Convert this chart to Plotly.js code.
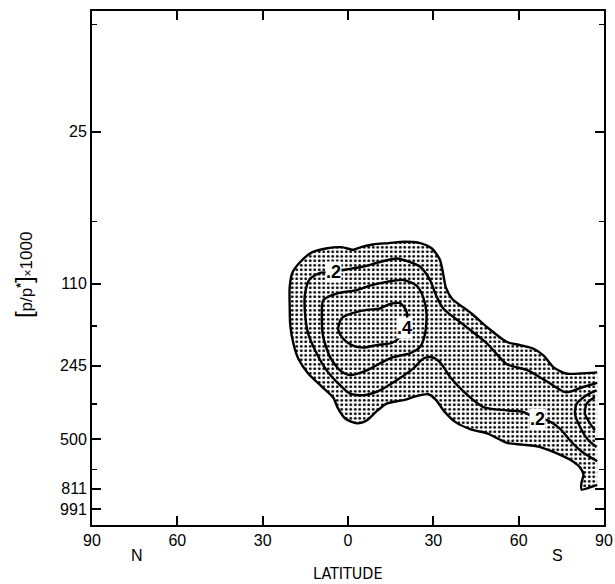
<!DOCTYPE html>
<html>
<head>
<meta charset="utf-8">
<script src="https://cdn.plot.ly/plotly-3.0.1.min.js"></script>
<style>html,body{margin:0;padding:0;background:#fff;}#chart{width:615px;height:584px;}</style>
</head>
<body>
<div id="chart"></div>
<script>
// Latitude: negative = North, positive = South (plotted 90N -> 90S)
const xTickVals = [-90, -60, -30, 0, 30, 60, 90];
const xTickText = ['90', '60', '30', '0', '30', '60', '90'];
const yTickVals = [25, 110, 245, 500, 811, 991];
const yMinorVals = [8.8, 60, 166, 356, 672];

// 0.1 contour (outer edge of stippled region)
const lat01 = [87.6, 81.6, 76.6, 72.2, 68.7, 65.1, 60.5, 55.8, 48.9, 43.4, 36.5, 34.4, 33.4, 32.3, 29.5, 25.4, 19.9, 14.3, 8.8, 4.6, 1.9, -2.3, -7.8, -12.7, -16.8, -19.6, -20.5, -20.5, -20.3, -19.2, -17.5, -14.0, -9.2, -5.1, -3.7, -0.9, 3.2, 6.7, 10.2, 13.6, 19.9, 24.0, 28.2, 30.9, 33.7, 37.8, 43.4, 48.9, 53.0, 55.8, 61.3, 66.9, 72.4, 78.0, 81.4, 82.8, 82.1, 82.1, 84.9, 87.6];
const p01 = [261, 264, 264, 248, 221, 207, 200, 194, 168, 147, 127, 114, 99, 87, 78, 74, 73, 74, 75, 77, 79, 77, 78, 81, 89, 99, 114, 137, 165, 197, 228, 264, 300, 335, 367, 410, 429, 416, 380, 354, 341, 329, 323, 341, 380, 424, 456, 473, 500, 519, 528, 538, 568, 611, 657, 707, 763, 818, 803, 782];

// 0.2 contour
const lat02 = [87.6, 82.7, 76.6, 69.7, 62.8, 55.8, 48.9, 41.7, 37.0, 33.5, 31.2, 28.8, 25.3, 21.8, 17.1, 11.2, 5.4, -1.1, -5.2, -9.8, -13.4, -15.1, -15.1, -14.0, -11.0, -7.5, -3.4, 0.7, 5.4, 11.2, 17.1, 23.0, 26.5, 29.4, 32.3, 35.9, 40.6, 47.6, 55.8, 61.6, 66.3, 69.9, 74.5, 78.0, 81.6, 85.1, 87.6];
const p02 = [289, 301, 317, 284, 255, 241, 197, 168, 152, 140, 125, 106, 93, 89, 86, 89, 93, 96, 98, 99, 105, 121, 147, 179, 217, 256, 291, 321, 326, 311, 282, 251, 228, 225, 236, 273, 314, 366, 378, 384, 410, 416, 452, 506, 558, 596, 621];

// 0.3 contour
const lat03 = [-8.7, -4.0, 3.1, 7.7, 13.6, 19.4, 24.1, 26.4, 27.6, 27.1, 25.3, 21.7, 15.9, 11.2, 6.6, 0.7, -2.8, -6.3, -8.7, -9.2, -8.7];
const p03 = [129, 121, 117, 112, 108, 106, 112, 125, 147, 179, 204, 217, 225, 239, 256, 268, 256, 225, 185, 152, 129];

// 0.4 contour
const lat04 = [-3.4, -2.2, 1.3, 6.6, 11.2, 14.8, 18.3, 20.4, 20.8, 20.0, 18.3, 15.4, 10.1, 5.4, 1.3, -1.7, -3.4, -3.4];
const p04 = [168, 154, 147, 142, 140, 134, 133, 142, 152, 170, 185, 196, 200, 205, 200, 188, 173, 168];

// contours at the south-polar edge
const latPolA = [87.4, 83.9, 80.4, 79.8, 81.6, 84.5, 87.4];
const pPolA = [311, 326, 354, 390, 445, 506, 540];
const latPolB = [86.8, 83.9, 83.3, 85.1, 86.8];
const pPolB = [332, 354, 390, 430, 459];

// contour labels
const labelText = ['.2', '.2', '.4'];
const labelLat = [-5.2, 66.6, 20.0];
const labelP = [98, 413, 170];

const lineStyle = {color: '#000', width: 2.4, shape: 'spline', smoothing: 0.7};
function lineTrace(x, y) {
  return {type: 'scatter', mode: 'lines', x: x, y: y, line: lineStyle, hoverinfo: 'skip', showlegend: false};
}

const data = [
  {type: 'scatter', mode: 'lines', x: lat01, y: p01, fill: 'toself', fillcolor: '#fff',
   fillpattern: {shape: '.', fgcolor: '#000', bgcolor: '#fff', size: 4.5, solidity: 0.32},
   line: lineStyle, hoverinfo: 'skip', showlegend: false},
  lineTrace(lat02, p02),
  lineTrace(lat03, p03),
  lineTrace(lat04, p04),
  lineTrace(latPolA, pPolA),
  lineTrace(latPolB, pPolB)
];

const fam = 'Liberation Sans, Arial, sans-serif';
const font = {family: fam, color: '#000'};
const annotations = labelText.map((t, i) => ({
  x: labelLat[i], y: Math.log10(labelP[i]), xref: 'x', yref: 'y', text: '<b>' + t + '</b>', showarrow: false,
  xanchor: 'center', yanchor: 'middle',
  font: {family: fam, size: 18, color: '#000'}, bgcolor: '#fff', borderpad: 0
}));
annotations.push(
  {xref: 'x', yref: 'paper', x: -74.2, y: -0.059, xanchor: 'center', yanchor: 'middle', text: 'N', showarrow: false,
   font: {family: fam, size: 16, color: '#000'}},
  {xref: 'x', yref: 'paper', x: 73.8, y: -0.059, xanchor: 'center', yanchor: 'middle', text: 'S', showarrow: false,
   font: {family: fam, size: 16, color: '#000'}},
  {xref: 'x', yref: 'paper', x: 0, y: -0.095, xanchor: 'center', yanchor: 'middle', text: 'LATITUDE', showarrow: false,
   borderpad: 0,
   font: {family: 'Liberation Sans Narrow, DejaVu Sans Condensed, Arial Narrow, sans-serif', size: 16, color: '#000'}},
  {xref: 'paper', yref: 'paper', x: -0.134, y: 0.487, xanchor: 'center', yanchor: 'middle', textangle: -90, showarrow: false,
   text: '<span style="font-size:24px">[</span>p/p<sup><b>*</b></sup><span style="font-size:24px">]</span><span style="font-size:12px">×</span>1000',
   font: {family: fam, size: 17, color: '#000'}}
);

const layout = {
  width: 615, height: 584,
  margin: {l: 92, r: 11, t: 11, b: 59},
  paper_bgcolor: '#fff', plot_bgcolor: '#fff',
  font: font,
  xaxis: {
    range: [-90, 90], tickmode: 'array', tickvals: xTickVals, ticktext: xTickText,
    ticks: 'inside', ticklen: 9, tickwidth: 2, tickcolor: '#000',
    showline: true, linewidth: 2, linecolor: '#000', mirror: 'ticks',
    showgrid: false, zeroline: false, tickfont: {size: 16}
  },
  yaxis: {
    type: 'log', autorange: false, range: [Math.log10(1156), Math.log10(7.7)],
    tickmode: 'array', tickvals: yTickVals, ticktext: yTickVals.map(String),
    ticks: 'inside', ticklen: 9, tickwidth: 2, tickcolor: '#000',
    minor: {tickmode: 'array', tickvals: yMinorVals, ticks: 'inside', ticklen: 5, tickwidth: 1.5, tickcolor: '#000', showgrid: false},
    showline: true, linewidth: 2, linecolor: '#000', mirror: 'ticks',
    showgrid: false, zeroline: false, tickfont: {size: 16}
  },
  annotations: annotations
};

Plotly.newPlot('chart', data, layout, {staticPlot: true});
</script>
</body>
</html>
